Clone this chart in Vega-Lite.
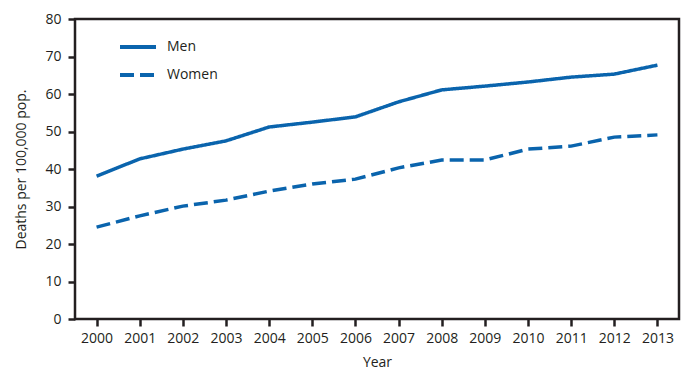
{
  "$schema": "https://vega.github.io/schema/vega-lite/v6.json",
  "width": 604,
  "height": 300,
  "autosize": {"type": "none"},
  "padding": {"left": 75, "top": 19, "right": 12, "bottom": 60},
  "background": "white",
  "config": {
    "font": "Open Sans",
    "view": {"stroke": "#231f20", "strokeWidth": 2.5},
    "axis": {
      "domain": false,
      "grid": false,
      "tickColor": "#231f20",
      "tickWidth": 2.5,
      "tickSize": 7,
      "labelColor": "#231f20",
      "labelFont": "Open Sans",
      "labelFontSize": 14,
      "titleFont": "Open Sans",
      "titleFontSize": 14,
      "titleFontWeight": "normal",
      "titleColor": "#231f20"
    }
  },
  "data": {
    "values": [
      {"year": "2000", "sex": "Men", "rate": 38.1},
      {"year": "2001", "sex": "Men", "rate": 42.7},
      {"year": "2002", "sex": "Men", "rate": 45.3},
      {"year": "2003", "sex": "Men", "rate": 47.5},
      {"year": "2004", "sex": "Men", "rate": 51.2},
      {"year": "2005", "sex": "Men", "rate": 52.5},
      {"year": "2006", "sex": "Men", "rate": 53.9},
      {"year": "2007", "sex": "Men", "rate": 57.9},
      {"year": "2008", "sex": "Men", "rate": 61.1},
      {"year": "2009", "sex": "Men", "rate": 62.1},
      {"year": "2010", "sex": "Men", "rate": 63.2},
      {"year": "2011", "sex": "Men", "rate": 64.5},
      {"year": "2012", "sex": "Men", "rate": 65.3},
      {"year": "2013", "sex": "Men", "rate": 67.7},
      {"year": "2000", "sex": "Women", "rate": 24.5},
      {"year": "2001", "sex": "Women", "rate": 27.5},
      {"year": "2002", "sex": "Women", "rate": 30.1},
      {"year": "2003", "sex": "Women", "rate": 31.7},
      {"year": "2004", "sex": "Women", "rate": 34.1},
      {"year": "2005", "sex": "Women", "rate": 36.0},
      {"year": "2006", "sex": "Women", "rate": 37.3},
      {"year": "2007", "sex": "Women", "rate": 40.3},
      {"year": "2008", "sex": "Women", "rate": 42.4},
      {"year": "2009", "sex": "Women", "rate": 42.4},
      {"year": "2010", "sex": "Women", "rate": 45.3},
      {"year": "2011", "sex": "Women", "rate": 46.1},
      {"year": "2012", "sex": "Women", "rate": 48.5},
      {"year": "2013", "sex": "Women", "rate": 49.1}
    ]
  },
  "mark": {"type": "line", "color": "#0a64ad", "strokeWidth": 3.5},
  "encoding": {
    "x": {
      "field": "year",
      "type": "ordinal",
      "scale": {"type": "point", "padding": 0.5},
      "axis": {"title": "Year", "labelAngle": 0, "labelPadding": 5, "titlePadding": 10}
    },
    "y": {
      "field": "rate",
      "type": "quantitative",
      "scale": {"domain": [0, 80], "nice": false},
      "axis": {"title": "Deaths per 100,000 pop.", "values": [0,10,20,30,40,50,60,70,80], "labelPadding": 7, "titlePadding": 16}
    },
    "strokeDash": {
      "field": "sex",
      "type": "nominal",
      "scale": {"domain": ["Men", "Women"], "range": [[1, 0], [14, 6]]},
      "legend": {
        "title": null,
        "orient": "none",
        "legendX": 43,
        "legendY": 8,
        "symbolType": "stroke",
        "symbolSize": 1296,
        "symbolStrokeWidth": 4,
        "symbolStrokeColor": "#0a64ad",
        "labelFontSize": 14,
        "labelFont": "Open Sans",
        "labelColor": "#231f20",
        "labelOffset": 9,
        "rowPadding": -19
      }
    }
  }
}
